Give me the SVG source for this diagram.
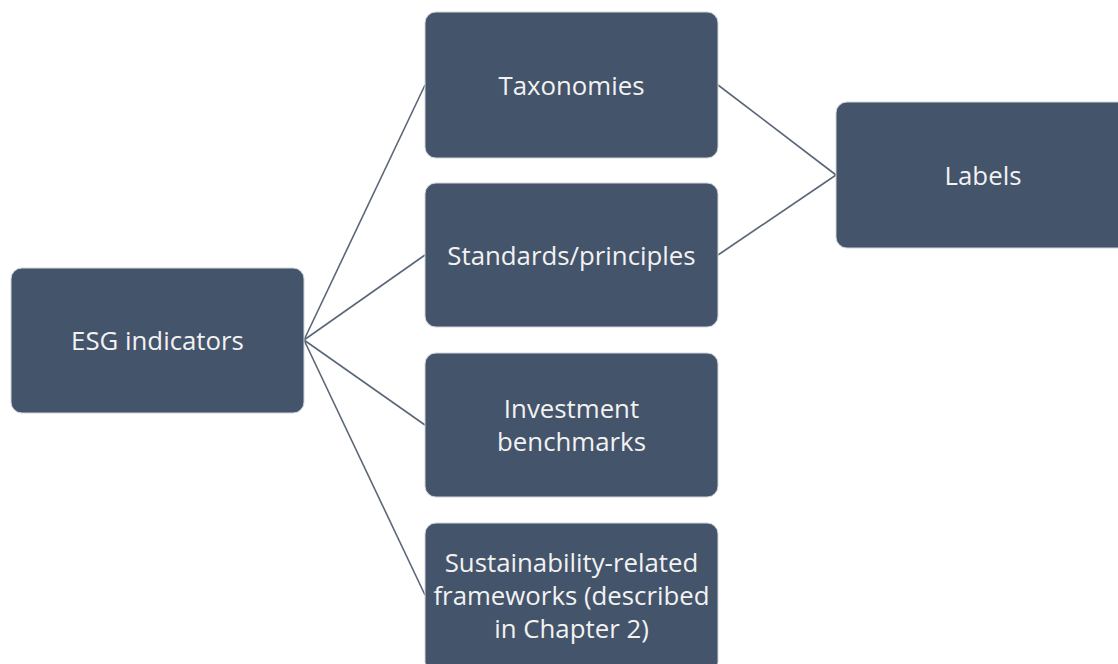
<svg xmlns="http://www.w3.org/2000/svg" width="1118" height="664" viewBox="0 0 1118 664">
<style>
.box{fill:#44546A;stroke:#d0d4da;stroke-width:1}
.t{font-family:"Open Sans","Noto Sans",sans-serif;font-size:25.8px;fill:#f2f2f2;text-anchor:middle;dominant-baseline:central}
.c{stroke:#5b6778;stroke-width:1.6;fill:none}
</style>
<rect width="1118" height="664" fill="#ffffff"/>
<g id="connectors">
<line class="c" x1="304" y1="340" x2="425" y2="85"/>
<line class="c" x1="304" y1="340" x2="425" y2="255"/>
<line class="c" x1="304" y1="340" x2="425" y2="425"/>
<line class="c" x1="304" y1="340" x2="425" y2="595"/>
<line class="c" x1="718" y1="85" x2="836" y2="175"/>
<line class="c" x1="718" y1="255" x2="836" y2="175"/>
</g>
<g id="esg"><rect class="box" x="11" y="268" width="293" height="145" rx="11"/><text class="t" x="157.5" y="340">ESG indicators</text></g>
<g id="taxonomies"><rect class="box" x="425" y="12" width="293" height="146" rx="11"/><text class="t" x="571.5" y="85">Taxonomies</text></g>
<g id="standards"><rect class="box" x="425" y="183" width="293" height="144" rx="11"/><text class="t" x="571.5" y="255">Standards/principles</text></g>
<g id="investment"><rect class="box" x="425" y="353" width="293" height="144" rx="11"/><text class="t" x="571.5" y="408">Investment</text><text class="t" x="571.5" y="441">benchmarks</text></g>
<g id="sustainability"><rect class="box" x="425" y="523" width="293" height="150" rx="11"/><text class="t" x="571.5" y="562">Sustainability-related</text><text class="t" x="571.5" y="595">frameworks (described</text><text class="t" x="571.5" y="628">in Chapter 2)</text></g>
<g id="labels"><rect class="box" x="836" y="102" width="300" height="146" rx="11"/><text class="t" x="983" y="175">Labels</text></g>
</svg>
